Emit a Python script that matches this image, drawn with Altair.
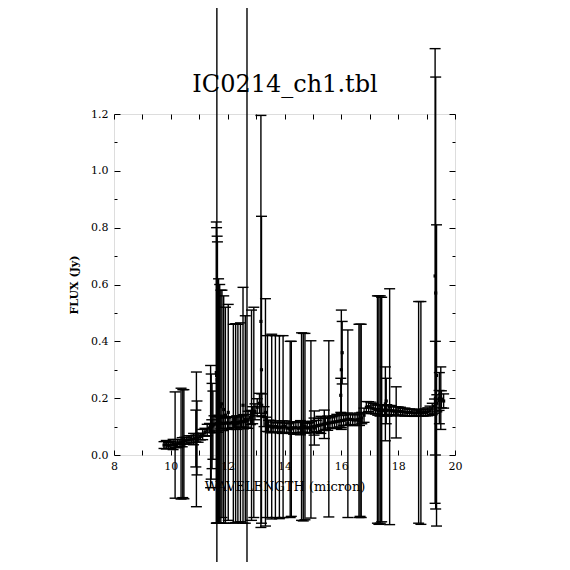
import altair as alt
import pandas as pd

W = 341
H = 341

# ---- main spectrum (wavelength in micron, flux in Jy, 1-sigma error) ----
wave = [9.76, 9.84, 9.92, 10.00, 10.08, 10.16, 10.24, 10.32, 10.40, 10.48,
        10.56, 10.64, 10.72, 10.80, 10.88, 10.96, 11.04, 11.12, 11.20, 11.28,
        11.36, 11.44, 11.52, 11.60, 11.68, 11.76, 11.84, 11.92, 12.00, 12.08,
        12.16, 12.24, 12.32, 12.40, 12.48, 12.56, 12.64, 12.72, 12.80, 12.88,
        12.96, 13.04, 13.12, 13.20, 13.28, 13.36, 13.44, 13.52, 13.60, 13.68,
        13.76, 13.84, 13.92, 14.00, 14.08, 14.16, 14.24, 14.32, 14.40, 14.48,
        14.56, 14.64, 14.72, 14.80, 14.88, 14.96, 15.04, 15.12, 15.20, 15.28,
        15.36, 15.44, 15.52, 15.60, 15.68, 15.76, 15.84, 15.92, 16.00, 16.08,
        16.16, 16.24, 16.32, 16.40, 16.48, 16.56, 16.64, 16.72, 16.80, 16.88,
        16.96, 17.04, 17.12, 17.20, 17.28, 17.36, 17.44, 17.52, 17.60, 17.68,
        17.76, 17.84, 17.92, 18.00, 18.08, 18.16, 18.24, 18.32, 18.40, 18.48,
        18.56, 18.64, 18.72, 18.80, 18.88, 18.96, 19.04, 19.12, 19.20, 19.28,
        19.36, 19.44, 19.52, 19.60]
flux = [0.035, 0.036, 0.034, 0.035, 0.037, 0.036, 0.040, 0.042, 0.045, 0.050,
        0.052, 0.053, 0.055, 0.056, 0.058, 0.060, 0.065, 0.072, 0.080, 0.088,
        0.095, 0.102, 0.108, 0.110, 0.110, 0.112, 0.111, 0.112, 0.113, 0.112,
        0.114, 0.115, 0.114, 0.116, 0.118, 0.117, 0.120, 0.124, 0.132, 0.140,
        0.152, 0.168, 0.182, 0.175, 0.135, 0.108, 0.102, 0.100, 0.098, 0.100,
        0.097, 0.096, 0.098, 0.100, 0.095, 0.094, 0.096, 0.095, 0.097, 0.094,
        0.096, 0.098, 0.097, 0.095, 0.096, 0.099, 0.100, 0.102, 0.104, 0.106,
        0.108, 0.110, 0.112, 0.113, 0.115, 0.116, 0.118, 0.119, 0.121, 0.122,
        0.124, 0.126, 0.125, 0.124, 0.123, 0.124, 0.126, 0.130, 0.140, 0.168,
        0.170, 0.166, 0.164, 0.160, 0.158, 0.157, 0.158, 0.156, 0.157, 0.158,
        0.156, 0.155, 0.154, 0.155, 0.153, 0.152, 0.151, 0.150, 0.150, 0.149,
        0.148, 0.148, 0.149, 0.148, 0.149, 0.150, 0.152, 0.156, 0.162, 0.172,
        0.182, 0.192, 0.196, 0.190]
err = [0.012, 0.015, 0.010, 0.012, 0.018, 0.010, 0.014, 0.012, 0.016, 0.012,
       0.010, 0.015, 0.012, 0.020, 0.012, 0.015, 0.012, 0.018, 0.014, 0.020,
       0.016, 0.022, 0.030, 0.025, 0.030, 0.020, 0.025, 0.018, 0.020, 0.022,
       0.018, 0.020, 0.024, 0.018, 0.020, 0.025, 0.022, 0.030, 0.025, 0.030,
       0.028, 0.030, 0.035, 0.040, 0.035, 0.025, 0.020, 0.022, 0.018, 0.020,
       0.016, 0.018, 0.022, 0.020, 0.018, 0.016, 0.020, 0.022, 0.018, 0.020,
       0.025, 0.018, 0.020, 0.016, 0.018, 0.020, 0.030, 0.020, 0.025, 0.030,
       0.022, 0.020, 0.025, 0.018, 0.020, 0.022, 0.025, 0.020, 0.025, 0.018,
       0.020, 0.022, 0.018, 0.020, 0.018, 0.020, 0.022, 0.020, 0.025, 0.020,
       0.018, 0.020, 0.018, 0.016, 0.018, 0.020, 0.016, 0.018, 0.020, 0.016,
       0.018, 0.015, 0.016, 0.014, 0.015, 0.012, 0.014, 0.012, 0.012, 0.012,
       0.012, 0.010, 0.012, 0.010, 0.012, 0.012, 0.014, 0.016, 0.020, 0.025,
       0.030, 0.035, 0.030, 0.025]

# ---- points with large errors ----
big_wave = [10.15, 10.36, 10.42, 10.46, 10.90, 10.92, 10.88, 11.40, 11.42, 11.45,
            11.48, 11.62, 11.60, 11.61, 11.63, 11.64, 11.68, 11.72, 11.76, 11.80,
            11.86, 11.92, 12.02, 12.20, 12.28, 12.36, 12.45, 12.54, 12.68, 12.62,
            12.84, 12.92, 13.17, 13.19, 13.33, 13.40, 13.55, 13.68, 13.82, 13.95,
            14.20, 14.24, 14.60, 14.66, 14.72, 14.93, 15.05, 15.40, 15.56, 15.98,
            16.00, 16.03, 16.23, 16.62, 16.66, 16.70, 17.27, 17.32, 17.37, 17.42,
            17.55, 17.58, 17.70, 17.93, 18.72, 18.80, 19.30, 19.32, 19.35, 19.31,
            19.50, 19.45]
big_flux = [0.035, 0.040, 0.040, 0.038, 0.055, 0.060, 0.058, 0.100, 0.100, 0.102,
            0.105, 0.110, 0.290, 0.280, 0.265, 0.255, 0.190, 0.180, 0.170, 0.180,
            0.160, 0.140, 0.150, 0.110, 0.112, 0.112, 0.115, 0.175, 0.120, 0.125,
            0.140, 0.150, 0.470, 0.300, 0.150, 0.100, 0.100, 0.100, 0.098, 0.100,
            0.090, 0.092, 0.100, 0.098, 0.100, 0.090, 0.095, 0.108, 0.092, 0.210,
            0.300, 0.360, 0.110, 0.120, 0.122, 0.120, 0.160, 0.158, 0.160, 0.160,
            0.180, 0.190, 0.170, 0.150, 0.150, 0.148, 0.630, 0.570, 0.280, 0.200,
            0.200, 0.200]
big_err = [0.187, 0.195, 0.190, 0.192, 0.237, 0.130, 0.100, 0.215, 0.185, 0.150,
           0.120, 2.200, 0.530, 0.520, 0.505, 0.495, 0.430, 0.420, 0.410, 0.400,
           0.400, 0.380, 0.380, 0.350, 0.350, 0.348, 0.350, 0.415, 2.200, 0.365,
           0.370, 0.370, 0.725, 0.540, 0.400, 0.320, 0.325, 0.320, 0.322, 0.320,
           0.310, 0.308, 0.330, 0.330, 0.328, 0.312, 0.060, 0.050, 0.310, 0.060,
           0.210, 0.110, 0.330, 0.340, 0.338, 0.340, 0.400, 0.402, 0.400, 0.395,
           0.130, 0.080, 0.415, 0.090, 0.390, 0.392, 0.800, 0.760, 0.530, 0.200,
           0.110, 0.090]

x_tick_values = [8, 9, 10, 11, 12, 13, 14, 15, 16, 17, 18, 19, 20]
x_label_values = [8, 10, 12, 14, 16, 18, 20]
y_major_values = [0.0, 0.2, 0.4, 0.6, 0.8, 1.0, 1.2]
y_minor_values = [0.1, 0.3, 0.5, 0.7, 0.9, 1.1]

title_text = "IC0214_ch1.tbl"
x_title = "WAVELENGTH (micron)"
y_title = "FLUX (Jy)"

FONT = "DejaVu Serif"
LW = 1.4

df = pd.DataFrame({"w": wave + big_wave, "f": flux + big_flux, "e": err + big_err})
df["lo"] = df["f"] - df["e"]
df["hi"] = df["f"] + df["e"]

xs = alt.Scale(domain=[8, 20], nice=False, zero=False)
ys = alt.Scale(domain=[0, 1.2], nice=False, zero=False)


def tick_axis(orient, values, size, **kw):
    off = -W if orient in ("left", "right") else -H
    opts = dict(orient=orient, offset=off, values=values, tickSize=size,
                ticks=True, labels=False, domain=False, grid=False,
                tickColor="black", tickWidth=1, title="")
    opts.update(kw)
    return alt.Axis(**opts)


base = alt.Chart(df)

rules = base.mark_rule(color="black", strokeWidth=LW, clip=False).encode(
    x=alt.X("w:Q", scale=xs, axis=alt.Axis(
        orient="bottom", values=x_label_values, format="d", ticks=False,
        domain=False, grid=False, labelFont=FONT, labelFontSize=11,
        labelColor="black", labelPadding=5, labelFlush=False, labelOverlap=False,
        title=x_title, titleFont=FONT, titleFontSize=13, titleFontWeight="normal",
        titleX=W / 2, titleY=31, titleBaseline="middle", titleAlign="center",
        titleColor="black")),
    y=alt.Y("lo:Q", scale=ys, axis=alt.Axis(
        orient="left", values=y_major_values, format=".1f", ticks=False,
        domain=False, grid=False, labelFont=FONT, labelFontSize=11,
        labelColor="black", labelPadding=6, labelFlush=False, labelOverlap=False,
        title=y_title, titleFont=FONT, titleFontSize=11, titleFontWeight="bold",
        titleX=-40, titleY=H / 2, titleBaseline="middle", titleAlign="center",
        titleColor="black")),
    y2="hi:Q",
)

caps_hi = base.mark_tick(orient="horizontal", color="black", size=11,
                         thickness=LW, opacity=1, clip=False).encode(
    x=alt.X("w:Q", scale=xs, axis=tick_axis("top", x_tick_values, 5)),
    y=alt.Y("hi:Q", scale=ys, axis=tick_axis("right", y_major_values, 6)),
)

caps_lo = base.mark_tick(orient="horizontal", color="black", size=11,
                         thickness=LW, opacity=1, clip=False).encode(
    x=alt.X("w:Q", scale=xs, axis=tick_axis(
        "bottom", x_tick_values, 5, title=title_text, titleFont=FONT,
        titleFontSize=24, titleFontWeight="normal", titleColor="black",
        titleX=W / 2, titleY=-23, titleAlign="center",
        titleBaseline="alphabetic")),
    y=alt.Y("lo:Q", scale=ys, axis=tick_axis("left", y_major_values, 6)),
)

points = base.mark_square(color="black", size=10, opacity=1, clip=False).encode(
    x=alt.X("w:Q", scale=xs, axis=None),
    y=alt.Y("f:Q", scale=ys, axis=tick_axis("right", y_minor_values, 3)),
)

points2 = base.mark_square(color="black", size=10, opacity=0, clip=False).encode(
    x=alt.X("w:Q", scale=xs, axis=None),
    y=alt.Y("f:Q", scale=ys, axis=tick_axis("left", y_minor_values, 3)),
)

chart = alt.layer(rules, caps_hi, caps_lo, points, points2).resolve_axis(
    x="independent", y="independent"
).properties(
    width=W, height=H,
    autosize=alt.AutoSizeParams(type="none"),
    padding={"left": 106, "top": 106, "right": 106, "bottom": 107},
).configure_view(stroke="black", strokeWidth=1).configure(background="white")

chart.save("out.html", embed_options={"renderer": "svg", "actions": False})
